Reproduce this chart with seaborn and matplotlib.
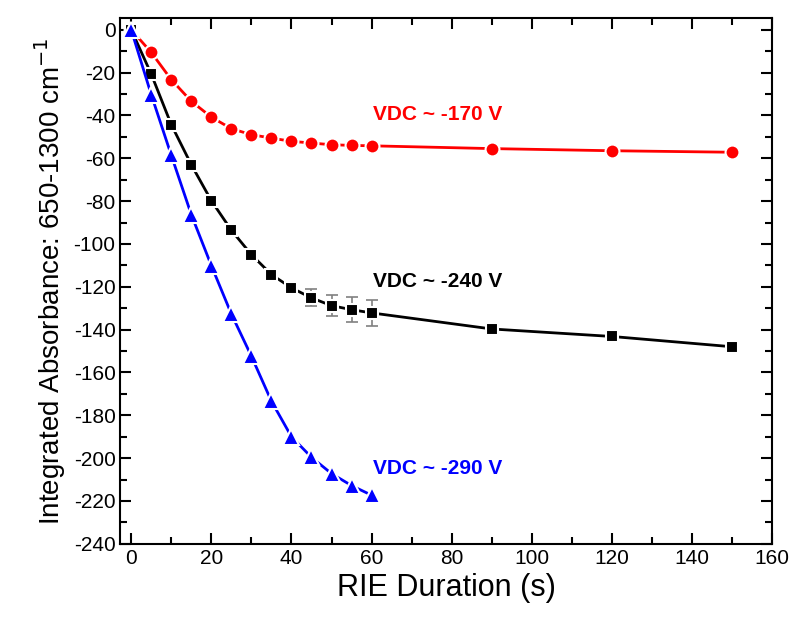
import matplotlib
matplotlib.use('Agg')
import matplotlib.pyplot as plt
from matplotlib.ticker import MultipleLocator
import seaborn as sns
import pandas as pd

# data
t_short = [0, 5, 10, 15, 20, 25, 30, 35, 40, 45, 50, 55, 60]
t_long = t_short + [90, 120, 150]

red_170 = [0, -10.6, -23.3, -33.4, -40.8, -46.2, -49.0, -50.6, -52.1, -52.9,
           -53.7, -54.0, -54.2, -55.5, -56.5, -57.2]
black_240 = [0, -20.7, -44.3, -63.0, -79.8, -93.6, -105.0, -114.3, -120.5,
             -125.2, -128.8, -130.7, -132.2, -139.7, -143.2, -148.0]
blue_290 = [0, -30.3, -58.6, -86.3, -110.1, -132.7, -152.4, -173.4, -190.0,
            -199.6, -207.2, -212.8, -217.3]

err_t = [45, 50, 55, 60]
err_val = [-125.2, -128.8, -130.7, -132.2]
err_size = [4.0, 5.0, 5.7, 6.2]

labels = ['VDC ~ -170 V', 'VDC ~ -240 V', 'VDC ~ -290 V']
label_y = [-39.7, -117.5, -205.0]

sns.set_style('ticks', {'axes.edgecolor': 'black', 'text.color': 'black',
                        'xtick.color': 'black', 'ytick.color': 'black',
                        'axes.labelcolor': 'black'})
plt.rcParams['font.family'] = ['Liberation Sans', 'DejaVu Sans']
plt.rcParams['axes.unicode_minus'] = False

fig = plt.figure(figsize=(7.92, 6.18), dpi=100)
ax = fig.add_axes([0.152, 0.12, 0.823, 0.851])

red_df = pd.DataFrame({'t': t_long, 'A': red_170})
black_df = pd.DataFrame({'t': t_long, 'A': black_240})
blue_df = pd.DataFrame({'t': t_short, 'A': blue_290})

ax.errorbar(err_t, err_val, yerr=err_size, fmt='none', ecolor='#808080',
            elinewidth=1.2, capsize=4, capthick=1.2, zorder=2)

# white marker edges give the small gaps around each symbol
sns.lineplot(data=red_df, x='t', y='A', ax=ax, color='#ff0000', lw=2,
             marker='o', markersize=10, markeredgecolor='white',
             markeredgewidth=1.5, zorder=3)
sns.lineplot(data=black_df, x='t', y='A', ax=ax, color='black', lw=2,
             marker='s', markersize=9, markeredgecolor='white',
             markeredgewidth=1.5, zorder=3)
sns.lineplot(data=blue_df, x='t', y='A', ax=ax, color='#0000ff', lw=2,
             marker='^', markersize=11, markeredgecolor='white',
             markeredgewidth=1.5, zorder=4)

colors = ['#ff0000', 'black', '#0000ff']
for txt, yy, c in zip(labels, label_y, colors):
    ax.text(60.3, yy, txt, color=c, fontsize=15, fontweight='bold',
            va='center', ha='left')

ax.set_xlim(-2.7, 160)
ax.set_ylim(-240, 5.5)
ax.xaxis.set_major_locator(MultipleLocator(20))
ax.xaxis.set_minor_locator(MultipleLocator(10))
ax.yaxis.set_major_locator(MultipleLocator(20))
ax.yaxis.set_minor_locator(MultipleLocator(10))
ax.tick_params(which='both', direction='in', top=True, right=True,
               width=1.5, labelsize=15, colors='black')
ax.tick_params(which='major', length=8)
ax.tick_params(which='minor', length=5)
for s in ax.spines.values():
    s.set_linewidth(1.5)
    s.set_color('black')

ax.set_xlabel('RIE Duration (s)', fontsize=22, labelpad=4)
ax.set_ylabel('Integrated Absorbance: 650-1300 cm$^{-1}$', fontsize=20,
              labelpad=4)

fig.savefig('out.png', dpi=100)
